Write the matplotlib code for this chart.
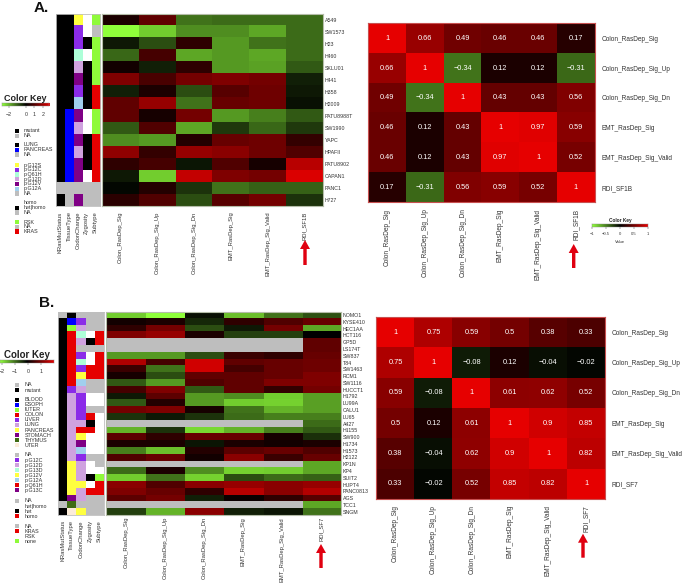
import matplotlib
matplotlib.use("Agg")
import matplotlib.pyplot as plt
from matplotlib.colors import LinearSegmentedColormap, ListedColormap
from matplotlib.patches import Rectangle, FancyArrow
import numpy as np

plt.rcParams['font.family'] = ['Liberation Sans', 'DejaVu Sans']

W, H = 685, 584
nan = np.nan

# ---- dati pannello A ----
cell_lines_a = ["A549", "SW1573", "H23", "H460", "SKLU01", "H441", "H358", "H2009",
                "PATU8988T", "SW1990", "YAPC", "HPAFII", "PATU8902", "CAPAN1", "PANC1", "H727"]
signatures_a = ["Colon_RasDep_Sig", "Colon_RasDep_Sig_Up", "Colon_RasDep_Sig_Dn",
                "EMT_RasDep_Sig", "EMT_RasDep_Sig_Valid", "RDI_SF1B"]
heat_a = [
    [0.12, 0.42, -0.45, -0.42, -0.42, -0.42],
    [-1.0, -0.8, -0.55, -0.55, -0.65, -0.42],
    [-0.1, -0.3, 0.2, -0.6, -0.45, -0.42],
    [-0.4, 0.3, -0.65, -0.6, -0.65, -0.42],
    [0.08, -0.12, 0.2, -0.6, -0.63, -0.35],
    [0.55, 0.32, 0.5, 0.55, 0.5, -0.12],
    [-0.12, 0.12, -0.3, 0.38, 0.48, -0.1],
    [0.42, 0.65, -0.45, 0.45, 0.48, -0.07],
    [0.42, 0.1, 0.5, -0.6, -0.5, -0.35],
    [-0.35, 0.35, -0.65, -0.22, -0.4, -0.22],
    [-0.55, -0.6, 0.15, 0.45, 0.48, 0.22],
    [0.62, 0.22, 0.65, 0.6, 0.48, 0.35],
    [0.2, 0.3, -0.08, 0.35, 0.1, 0.8],
    [-0.1, -0.8, 0.85, 0.55, 0.5, 0.95],
    [-0.03, 0.15, -0.2, -0.45, -0.38, -0.38],
    [0.18, 0.35, -0.3, 0.38, 0.5, -0.2],
]
annot_a = ["kkywl", "kkvwg", "kkvkl", "kktwl", "kkmkl", "kkdkl", "kkvkr", "kkskr",
           "kbdwl", "kbmwl", "kbdkr", "kbmkr", "kbdkr", "kbdwr", "ggggg", "kgdgg"]
corr_a = [
    [1, 0.66, 0.49, 0.46, 0.46, 0.17],
    [0.66, 1, -0.34, 0.12, 0.12, -0.31],
    [0.49, -0.34, 1, 0.43, 0.43, 0.56],
    [0.46, 0.12, 0.43, 1, 0.97, 0.59],
    [0.46, 0.12, 0.43, 0.97, 1, 0.52],
    [0.17, -0.31, 0.56, 0.59, 0.52, 1],
]

# ---- dati pannello B ----
cell_lines_b = ["NOMO1", "KYSE410", "HEC1AA", "HCT116", "GP5D", "LS174T", "SW837", "T84",
                "SW1463", "RCM1", "SW1116", "HUCCT1", "H1792", "LU99A", "CALU1", "LU65",
                "A427", "H1155", "SW900", "H1734", "H1573", "H2122", "KP1N", "KP4",
                "SUIT2", "HUPT4", "PANC0813", "AGS", "TCC1", "SNGM"]
signatures_b = ["Colon_RasDep_Sig", "Colon_RasDep_Sig_Up", "Colon_RasDep_Sig_Dn",
                "EMT_RasDep_Sig", "EMT_RasDep_Sig_Valid", "RDI_SF7"]
heat_b = [
    [-0.8, -1.0, -0.07, -0.75, -0.45, -0.32],
    [0.08, 0.12, -0.15, 0.2, 0.35, 0.45],
    [0.2, 0.5, -0.3, -0.1, 0.5, -0.65],
    [0.55, 0.65, 0.12, -0.25, -0.25, 0.0],
    [nan, nan, nan, nan, nan, 0.42],
    [nan, nan, nan, nan, nan, 0.42],
    [-0.6, -0.6, -0.3, 0.25, 0.2, 0.45],
    [0.75, 0.3, 0.9, 0.42, 0.45, 0.48],
    [0.25, -0.45, 0.9, 0.3, 0.45, 0.48],
    [0.1, -0.3, 0.42, 0.42, 0.45, 0.55],
    [-0.35, -0.6, 0.35, 0.42, 0.55, 0.55],
    [0.3, 0.55, -0.35, 0.42, 0.22, 0.5],
    [-0.1, 0.4, -0.6, -0.55, -0.8, -0.62],
    [-0.35, 0.15, -0.6, -0.8, -0.82, -0.62],
    [0.5, 0.55, 0.1, -0.45, -0.7, -0.62],
    [-0.2, -0.1, -0.2, -0.42, -0.5, -0.5],
    [nan, nan, nan, nan, nan, -0.42],
    [-0.7, -0.2, -0.85, -0.7, -0.5, -0.35],
    [0.4, 0.2, 0.45, 0.45, 0.1, -0.18],
    [0.12, 0.12, -0.08, 0.12, 0.08, 0.12],
    [-0.5, -0.75, 0.15, 0.4, 0.45, 0.35],
    [0.35, 0.45, 0.08, 0.6, 0.25, 0.45],
    [nan, nan, nan, nan, nan, -0.65],
    [-0.42, 0.12, -0.55, -0.82, -0.8, -0.65],
    [-0.8, -0.45, -0.82, -0.3, -0.42, -0.38],
    [0.6, 0.35, 0.6, 0.65, 0.6, 0.65],
    [0.55, 0.45, 0.2, 0.8, 0.6, 0.78],
    [0.4, 0.5, -0.12, 0.05, 0.2, 0.38],
    [nan, nan, nan, nan, nan, -0.65],
    [-0.25, -0.7, 0.6, -0.12, -0.08, -0.45],
]
annot_b = ["gkggg", "kbvgg", "klmgg", "krtwr", "krmkr", "krggg", "krvwr", "krtwr",
           "krvrr", "kryrr", "krsgg", "kvmgg", "kmvww", "kmvww", "kmvgg", "kmvrw",
           "kmmkw", "kmrrw", "kmyww", "kmdww", "kmsww", "kmvgg", "kymwg", "kymww",
           "kymkl", "kyywr", "kymrr", "kdmgg", "goggg", "kcygg"]
corr_b = [
    [1, 0.75, 0.59, 0.5, 0.38, 0.33],
    [0.75, 1, -0.08, 0.12, -0.04, -0.02],
    [0.59, -0.08, 1, 0.61, 0.62, 0.52],
    [0.5, 0.12, 0.61, 1, 0.9, 0.85],
    [0.38, -0.04, 0.62, 0.9, 1, 0.82],
    [0.33, -0.02, 0.52, 0.85, 0.82, 1],
]

annot_names = ["KRasMutStatus", "TissueType", "CodonChange", "Zygosity", "Subtype"]

# colori annotazioni
palette = {'k': '#000000', 'g': '#BEBEBE', 'b': '#0000FF', 'l': '#8FFA3A', 'r': '#E60000',
           'v': '#8B2BE8', 'm': '#CFA2DF', 't': '#ADFFD8', 'y': '#FFFF40', 'd': '#7F0085',
           's': '#A0CFEE', 'o': '#3F6B14', 'w': '#FFFFFF', 'c': '#FBEBD9'}
keys = list(palette)
annot_cmap = ListedColormap([palette[k] for k in keys])

# legende: (etichette, colori)
legend_a = [
    (["mutant", "NA"], "kg"),
    (["LUNG", "PANCREAS", "NA"], "kbg"),
    (["p.G12S", "p.G12C", "p.Q61H", "p.G12D", "p.G12V", "p.G12A", "NA"], "yvtmdsg"),
    (["homo", "het|homo", "NA"], "wkg"),
    (["RSK", "NA", "KRAS"], "lgr"),
]
legend_b = [
    (["NA", "mutant"], "gk"),
    (["BLOOD", "ESOPH", "IUTER", "COLON", "LIVER", "LUNG", "PANCREAS", "STOMACH", "THYMUS", "UTER"], "kblrvmydoc"),
    (["NA", "p.G12C", "p.G12D", "p.G13D", "p.G12V", "p.G12A", "p.Q61H", "p.G13C"], "gvmtysrd"),
    (["NA", "het|homo", "het", "homo"], "gwkr"),
    (["NA", "KRAS", "RSK", "none"], "grwl"),
]

# colormap verde-nero-rosso
heat_cmap = LinearSegmentedColormap.from_list("gkr", ['#8FFF3A', '#000000', '#E60000'])
heat_cmap.set_bad('#BEBEBE')
# nelle matrici di correlazione i verdi sono più accesi vicino allo zero
corr_cmap = LinearSegmentedColormap.from_list(
    "gkr2", [(0, '#8FFF3A'), (0.33, '#41731A'), (0.5, '#000000'), (1, '#E60000')])

fig = plt.figure(figsize=(W / 100, H / 100), dpi=100)
TXT = '#333333'


def px_axes(x0, y0, x1, y1):
    # assi in coordinate pixel (origine in alto a sinistra)
    return fig.add_axes([x0 / W, 1 - y1 / H, (x1 - x0) / W, (y1 - y0) / H])


def draw_heat(box, values, rows, cols, pad_x):
    ax = px_axes(*box)
    ax.imshow(np.array(values, dtype=float), cmap=heat_cmap, vmin=-1, vmax=1,
              aspect='auto', interpolation='nearest')
    ax.yaxis.tick_right()
    ax.set_yticks(range(len(rows)), rows, fontsize=3.8, color=TXT)
    ax.set_xticks(range(len(cols)), cols, rotation=90, fontsize=4.2, color=TXT)
    ax.tick_params(length=0, pad=1.4)
    ax.tick_params(axis='x', pad=pad_x)
    for s in ax.spines.values():
        s.set_color('#B4BCA8')
        s.set_linewidth(0.8)
    return ax


def draw_annot(box, rows, pad_x):
    ax = px_axes(*box)
    idx = np.array([[keys.index(c) for c in r] for r in rows])
    ax.imshow(idx, cmap=annot_cmap, vmin=0, vmax=len(keys) - 1, aspect='auto', interpolation='nearest')
    ax.set_yticks([])
    ax.set_xticks(range(len(annot_names)), annot_names, rotation=90, fontsize=4.2, color=TXT)
    ax.tick_params(length=0, pad=pad_x)
    for s in ax.spines.values():
        s.set_color('#BEBEBE')
        s.set_linewidth(0.6)
    return ax


def draw_corr(box, values, cols):
    ax = px_axes(*box)
    ax.imshow(np.array(values, dtype=float), cmap=corr_cmap, vmin=-1, vmax=1,
              aspect='auto', interpolation='nearest')
    for i, row in enumerate(values):
        for j, v in enumerate(row):
            ax.text(j, i, f"{v:g}".replace('-', '\u2212'), color='white', fontsize=5.3,
                    ha='center', va='center')
    ax.yaxis.tick_right()
    ax.set_yticks(range(len(cols)), cols, fontsize=4.7, color=TXT)
    ax.set_xticks(range(len(cols)), cols, rotation=90, fontsize=4.7, color=TXT)
    ax.tick_params(length=0, pad=4.7)
    ax.tick_params(axis='x', pad=4.5)
    for s in ax.spines.values():
        s.set_color('#C85050')
        s.set_linewidth(0.8)
    return ax


def draw_key(box, lims, ticks, labels, title, title_size, tick_size, value_label=False):
    ax = px_axes(*box)
    grad = np.linspace(-1, 1, 128).reshape(1, -1)
    ax.imshow(grad, cmap=heat_cmap, aspect='auto', extent=[lims[0], lims[1], 0, 1], interpolation='bilinear')
    ax.set_yticks([])
    ax.set_xticks(ticks, labels, fontsize=tick_size, color=TXT)
    ax.tick_params(length=1.5, width=0.3, pad=2.5, color=TXT)
    for s in ax.spines.values():
        s.set_color('#888888')
        s.set_linewidth(0.3)
    ax.set_title(title, fontsize=title_size, fontweight='bold', pad=1.5, color='#222222')
    if value_label:
        ax.set_xlabel("Value", fontsize=tick_size, color=TXT, labelpad=2.5)
    return ax


# overlay per legende, frecce e lettere
ov = fig.add_axes([0, 0, 1, 1], zorder=5)
ov.set_xlim(0, W)
ov.set_ylim(H, 0)
ov.axis('off')


def draw_legend(groups, starts, step, x_sq, x_txt):
    for (labels, cols), y0 in zip(groups, starts):
        for i, (lab, c) in enumerate(zip(labels, cols)):
            y = y0 + i * step
            if c != 'w':
                ov.add_patch(Rectangle((x_sq - 2.2, y - 2.1), 4.4, 4.2, color=palette[c], lw=0))
            ov.text(x_txt, y, lab, fontsize=3.9, color=TXT, ha='left', va='center')


def red_arrow(x, y_tail, y_tip):
    ov.add_patch(FancyArrow(x, y_tail, 0, y_tip - y_tail, width=3.4, head_width=10,
                            head_length=9, length_includes_head=True, color='#E00010', lw=0))


# pannello A
draw_annot((55.7, 14, 100, 206.5), annot_a, 3.6)
draw_heat((102, 14, 323, 206.5), heat_a, cell_lines_a, signatures_a, 3.6)
draw_corr((368.3, 23.3, 594.7, 202.3), corr_a, signatures_a)
draw_key((2, 103, 49, 106), (-2.8, 2.7), [-2, 0, 1, 2], ["\u22122", "0", "1", "2"], "Color Key", 6.5, 3.8)
draw_key((592, 223.7, 647.7, 226.7), (-1, 1), [-1, -0.5, 0, 0.5, 1],
         ["\u22121", "\u22120.5", "0", "0.5", "1"], "Color Key", 3.4, 3, value_label=True)
draw_legend(legend_a, [131, 145, 165, 203, 222], 4.75, 17, 24)
red_arrow(305, 265, 240)
red_arrow(573.7, 268, 244)
ov.text(33.5, 8, "A.", fontsize=11, fontweight='bold', color='#111111', ha='left', va='center')

# pannello B
draw_annot((58, 311.7, 104, 515), annot_b, 3.6)
draw_heat((106.5, 311.7, 341, 515), heat_b, cell_lines_b, signatures_b, 1.4)
draw_corr((376.3, 317.3, 605.3, 498.7), corr_b, signatures_b)
draw_key((0, 360, 54, 363), (-2.15, 2.0), [-2, -1, 0, 1], ["\u22122", "\u22121", "0", "1"], "Color Key", 7, 3.8)
draw_legend(legend_b, [385, 399.7, 455, 501, 526], 5.05, 17, 24.7)
red_arrow(321, 568, 544)
red_arrow(583, 557.7, 533.7)
ov.text(39, 303, "B.", fontsize=11, fontweight='bold', color='#111111', ha='left', va='center')

fig.savefig("out.png", dpi=100)
